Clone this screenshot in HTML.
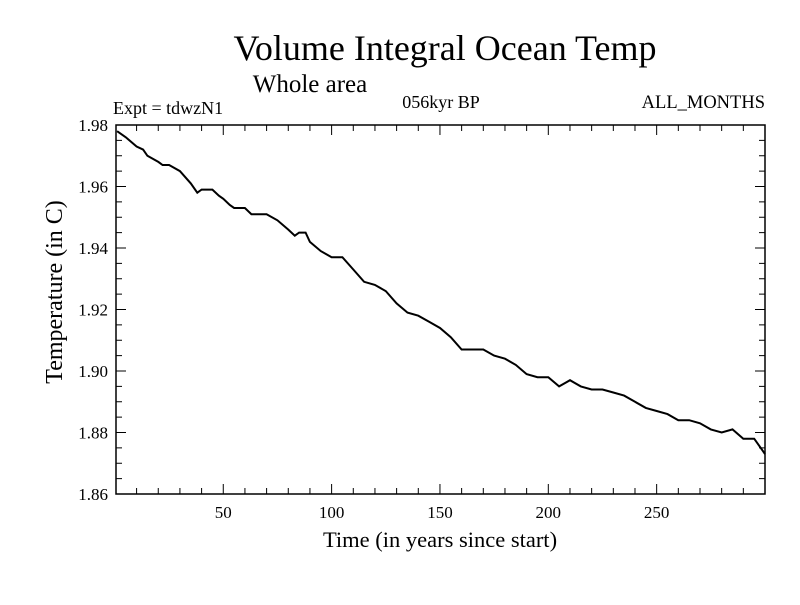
<!DOCTYPE html>
<html><head><meta charset="utf-8"><style>
body{margin:0;background:#fff;}
svg text{font-family:"Liberation Serif",serif;fill:#000;}
</style></head><body>
<svg id="chart" width="800" height="600">
<text x="445" y="60" font-size="36" text-anchor="middle">Volume Integral Ocean Temp</text>
<text x="310" y="92" font-size="25" text-anchor="middle">Whole area</text>
<text x="113" y="114" font-size="18">Expt = tdwzN1</text>
<text x="441" y="108" font-size="18" text-anchor="middle">056kyr BP</text>
<text x="765" y="108" font-size="18.5" text-anchor="end">ALL_MONTHS</text>
<text x="440" y="547" font-size="22.5" text-anchor="middle">Time (in years since start)</text>
<text transform="translate(62,292) rotate(-90)" font-size="24" text-anchor="middle">Temperature (in C)</text>
<g id="axes"></g>
<path id="line" fill="none" stroke="#000" stroke-width="2"/>
<rect x="116" y="125" width="649" height="369" fill="none" stroke="#000" stroke-width="1.5"/>
</svg>
<script>
const years=[1,5,10,13,15,20,22,25,30,35,38,40,45,48,50,53,55,60,63,65,70,75,80,83,85,88,90,95,100,105,110,115,120,125,130,135,140,145,150,155,160,165,170,175,180,185,190,195,200,205,210,215,220,225,230,235,240,245,250,255,260,265,270,275,280,285,290,295,300];
const temps=[1.978,1.976,1.973,1.972,1.970,1.968,1.967,1.967,1.965,1.961,1.958,1.959,1.959,1.957,1.956,1.954,1.953,1.953,1.951,1.951,1.951,1.949,1.946,1.944,1.945,1.945,1.942,1.939,1.937,1.937,1.933,1.929,1.928,1.926,1.922,1.919,1.918,1.916,1.914,1.911,1.907,1.907,1.907,1.905,1.904,1.902,1.899,1.898,1.898,1.895,1.897,1.895,1.894,1.894,1.893,1.892,1.890,1.888,1.887,1.886,1.884,1.884,1.883,1.881,1.880,1.881,1.878,1.878,1.873];
const xTicks=[50,100,150,200,250];
const yTicks=["1.86","1.88","1.90","1.92","1.94","1.96","1.98"];
const X0=116,X1=765,Y0=125,Y1=494,xmin=0.5,xmax=300,ymin=1.86,ymax=1.98;
const sx=v=>X0+(v-xmin)/(xmax-xmin)*(X1-X0);
const sy=v=>Y1-(v-ymin)/(ymax-ymin)*(Y1-Y0);
const NS='http://www.w3.org/2000/svg';
const g=document.getElementById('axes');
function ln(x1,y1,x2,y2,name){const l=document.createElementNS(NS,'line');l.setAttribute('x1',x1);l.setAttribute('y1',y1);l.setAttribute('x2',x2);l.setAttribute('y2',y2);l.setAttribute('stroke','#000');l.setAttribute('stroke-width','1');


g.appendChild(l);}
function tx(x,y,s,anchor,name){const t=document.createElementNS(NS,'text');t.setAttribute('x',x);t.setAttribute('y',y);t.setAttribute('font-size','17');t.setAttribute('text-anchor',anchor);t.textContent=s;


g.appendChild(t);}
for(let v=10;v<300;v+=10){const x=sx(v);const L=v%50===0?10:6;ln(x,Y1,x,Y1-L,'x-tick');ln(x,Y0,x,Y0+L,'x-tick-top');}
xTicks.forEach(v=>tx(sx(v),518,String(v),'middle','x-tick-label'));
for(let i=0;i<=24;i++){const v=ymin+i*0.005;const y=sy(v);const L=i%4===0?10:6;ln(X0,y,X0+L,y,'y-tick');ln(X1,y,X1-L,y,'y-tick-right');}
yTicks.forEach(s=>tx(108,sy(parseFloat(s))+6,s,'end','y-tick-label'));
document.getElementById('line').setAttribute('d',years.map((y,i)=>(i?'L':'M')+sx(y).toFixed(1)+','+sy(temps[i]).toFixed(1)).join(''));
</script>
</body></html>
